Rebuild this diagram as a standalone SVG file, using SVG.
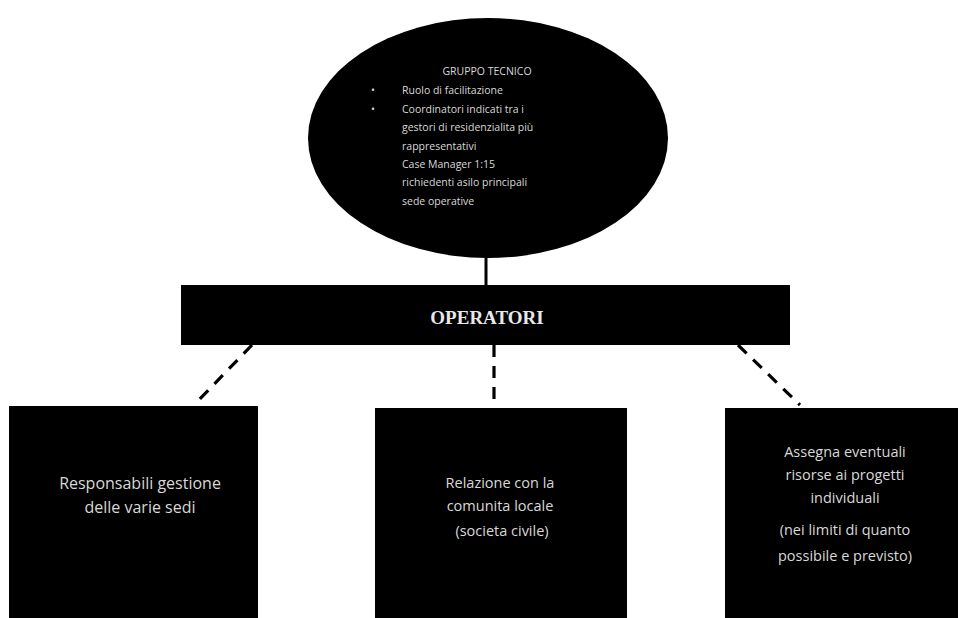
<svg xmlns="http://www.w3.org/2000/svg" width="964" height="618" viewBox="0 0 964 618">
<style>
.shape{fill:#000}
.t{font-family:"Open Sans","Liberation Sans",sans-serif;fill:#d8d8d8}
.small{font-size:10.5px}
.box{font-size:14.5px;text-anchor:middle}
.title{font-family:"Liberation Serif",serif;font-weight:bold;font-size:19px;fill:#e8e8e8;text-anchor:middle}
.dash{stroke:#000;stroke-width:3.2;stroke-dasharray:12 9;fill:none}
</style>
<rect width="964" height="618" fill="#fff"/>
<g id="connectors">
<line x1="486" y1="256" x2="486" y2="286" stroke="#000" stroke-width="3"/>
<line class="dash" x1="252" y1="345" x2="194" y2="405"/>
<line class="dash" x1="494" y1="345" x2="494" y2="408"/>
<line class="dash" x1="738" y1="345" x2="800" y2="405"/>
</g>
<g id="gruppo-tecnico">
<ellipse class="shape" cx="488" cy="138" rx="180" ry="120"/>
<text class="t small" x="487" y="75" text-anchor="middle">GRUPPO TECNICO</text>
<text class="t small" x="371" y="94">•</text>
<text class="t small" x="402" y="94">Ruolo di facilitazione</text>
<text class="t small" x="371" y="113">•</text>
<text class="t small" x="402" y="113">Coordinatori indicati tra i</text>
<text class="t small" x="402" y="131">gestori di residenzialita più</text>
<text class="t small" x="402" y="150">rappresentativi</text>
<text class="t small" x="402" y="168">Case Manager 1:15</text>
<text class="t small" x="402" y="186">richiedenti asilo principali</text>
<text class="t small" x="402" y="205">sede operative</text>
</g>
<g id="operatori">
<rect class="shape" x="181" y="285" width="609" height="60"/>
<text class="title" x="487" y="324">OPERATORI</text>
</g>
<g id="responsabili">
<rect class="shape" x="9" y="406" width="249" height="212"/>
<text class="t box" x="140" y="489" style="font-size:16px">Responsabili gestione</text>
<text class="t box" x="140" y="513" style="font-size:16px">delle varie sedi</text>
</g>
<g id="relazione">
<rect class="shape" x="375" y="408" width="252" height="210"/>
<text class="t box" x="500" y="488">Relazione con la</text>
<text class="t box" x="500" y="511">comunita locale</text>
<text class="t box" x="502" y="536">(societa civile)</text>
</g>
<g id="assegna">
<rect class="shape" x="725" y="408" width="233" height="210"/>
<text class="t box" x="845" y="457">Assegna eventuali</text>
<text class="t box" x="845" y="480">risorse ai progetti</text>
<text class="t box" x="845" y="503">individuali</text>
<text class="t box" x="845" y="535">(nei limiti di quanto</text>
<text class="t box" x="845" y="561">possibile e previsto)</text>
</g>
</svg>
